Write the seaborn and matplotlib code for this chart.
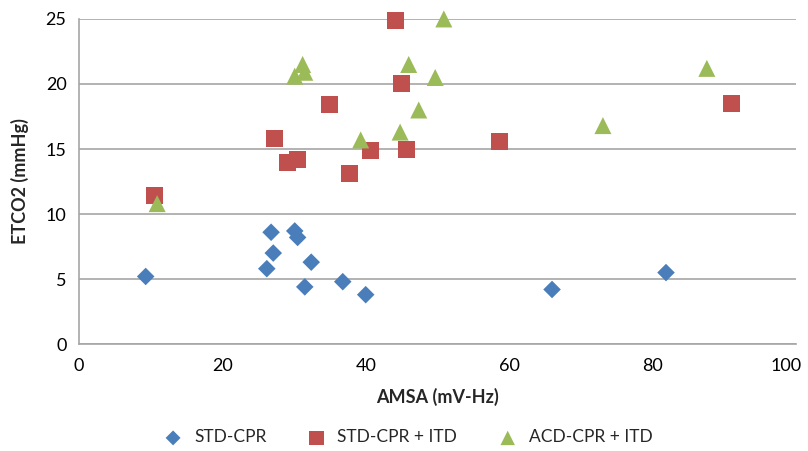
import numpy as np
import pandas as pd
import matplotlib
matplotlib.use("Agg")
import matplotlib.pyplot as plt
import matplotlib.transforms as mtransforms
import seaborn as sns

std_x = [9.3, 26.8, 27.1, 26.2, 30.1, 30.5, 32.4, 31.5, 36.8, 40.0, 66.0, 81.9]
std_y = [5.2, 8.6, 7.0, 5.8, 8.7, 8.2, 6.3, 4.4, 4.8, 3.8, 4.2, 5.5]
itd_x = [10.6, 27.3, 29.1, 30.5, 35.0, 37.8, 40.7, 44.1, 45.0, 45.7, 58.7, 91.1]
itd_y = [11.4, 15.8, 14.0, 14.2, 18.4, 13.1, 14.9, 24.9, 20.0, 15.0, 15.6, 18.5]
acd_x = [10.9, 30.1, 31.2, 31.5, 39.3, 44.8, 46.0, 47.4, 49.7, 50.9, 73.1, 87.6]
acd_y = [10.8, 20.6, 21.5, 20.9, 15.7, 16.3, 21.5, 18.0, 20.5, 25.0, 16.8, 21.2]
groups = ["STD-CPR", "STD-CPR + ITD", "ACD-CPR + ITD"]

df = pd.DataFrame({
    "AMSA": std_x + itd_x + acd_x,
    "ETCO2": std_y + itd_y + acd_y,
    "Group": [groups[0]] * len(std_x) + [groups[1]] * len(itd_x) + [groups[2]] * len(acd_x),
})

sns.set_style("white")
plt.rcParams['font.family'] = ['Lato', 'DejaVu Sans']

fig = plt.figure(figsize=(8.08, 4.51), dpi=100)
ax = fig.add_axes([0.0978, 0.237, 0.887, 0.721])

palette = {groups[0]: "#4A7EBB", groups[1]: "#C0504D", groups[2]: "#9BBB59"}
markers = {groups[0]: "D", groups[1]: "s", groups[2]: "^"}
sizes = {groups[0]: 80, groups[1]: 150, groups[2]: 150}

for g in groups:
    sub = df[df["Group"] == g]
    sns.scatterplot(data=sub, x="AMSA", y="ETCO2", color=palette[g], marker=markers[g],
                    s=sizes[g], edgecolor="none", ax=ax, label=g, zorder=3, clip_on=False)

ax.set_xlim(0, 100)
ax.set_ylim(0, 25)
ax.set_xticks(np.arange(0, 101, 20))
ax.set_yticks(np.arange(0, 26, 5))
ax.yaxis.grid(True, color="#A6A6A6", linewidth=1.2)
ax.set_axisbelow(True)
for s in ["top", "right"]:
    ax.spines[s].set_visible(False)
for s in ["left", "bottom"]:
    ax.spines[s].set_color("#A6A6A6")
    ax.spines[s].set_linewidth(1.2)
ax.tick_params(axis="both", labelsize=13, length=0, colors="black")
ax.tick_params(axis="x", pad=10)
ax.tick_params(axis="y", pad=9)
ax.set_xlabel("AMSA (mV-Hz)", fontsize=13, fontweight="bold", labelpad=10)
ax.set_ylabel("ETCO2 (mmHg)", fontsize=13, fontweight="bold", labelpad=12)

fig.canvas.draw()
last = ax.get_xticklabels()[-1]
last.set_transform(last.get_transform() +
                   mtransforms.ScaledTranslation(-7 / 72, 0, fig.dpi_scale_trans))

if ax.legend_:
    ax.legend_.remove()
handles, labels = ax.get_legend_handles_labels()
fig.legend(handles, labels, loc="center", bbox_to_anchor=(0.5, 0.03), ncol=3,
           frameon=False, fontsize=12.5, columnspacing=1.9, handletextpad=0.2,
           markerscale=0.85)

fig.savefig("out.png", dpi=100)
